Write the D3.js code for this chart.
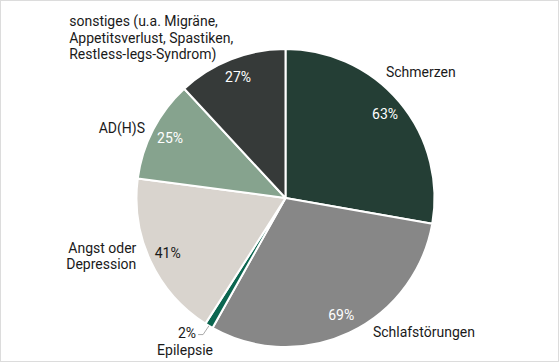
<!DOCTYPE html>
<html>
<head>
<meta charset="utf-8">
<script src="https://cdn.jsdelivr.net/npm/d3@7"></script>
<style>
  body { margin: 0; background: #fff; }
  svg text { font-family: Roboto, "Noto Sans", sans-serif; font-size: 14px; }
</style>
</head>
<body>
<div id="svg"></div>
<script>
/* Pie chart: Gründe für Cannabis-Verordnung (Mehrfachnennung) */

let categories = ["Schmerzen", "Schlafstörungen", "Epilepsie", "Angst oder Depression", "AD(H)S",
                  "sonstiges (u.a. Migräne, Appetitsverlust, Spastiken, Restless-legs-Syndrom)"];
let values = [63, 69, 2, 41, 25, 27];

// label lines as shown next to the pie
let labelLines = [
  ["Schmerzen"],
  ["Schlafstörungen"],
  ["Epilepsie"],
  ["Angst oder", "Depression"],
  ["AD(H)S"],
  ["sonstiges (u.a. Migräne,", "Appetitsverlust, Spastiken,", "Restless-legs-Syndrom)"]
];

let colors = ["#243e35", "#878787", "#0b6650", "#d9d4ce", "#86a38e", "#363a39"];
let pctColors = ["#fff", "#fff", "#fff", "#1a1a1a", "#fff", "#fff"];

// where each outer label sits: angle (deg, clockwise from top), distance, anchor
let labelLayout = [
  { a: 38.6, r: 161, anchor: "start" },
  { a: 146.9, r: 160, anchor: "start" },
  { a: 213.5, r: 182, anchor: "middle" },
  { a: 248.8, r: 160, anchor: "end" },
  { a: 296.5, r: 157, anchor: "end" },
  { a: 340, r: 153, anchor: "block" }
];

function makeGraph() {
  let w = 560, h = 363;
  let cx = 285.5, cy = 198, R = 149;
  let lineH = 16.5;

  let svg = d3.select("#svg")
              .append("svg")
              .attr("width", w)
              .attr("height", h);

  svg.append("rect")
     .attr("x", 0.5).attr("y", 0.5)
     .attr("width", w - 2).attr("height", h - 2)
     .attr("fill", "#fff")
     .attr("stroke", "#dcdcdc");

  let data = values.map((v, i) => ({ name: categories[i], value: v, i: i }));

  let pie = d3.pie().sort(null).value(d => d.value);
  let arcs = pie(data);

  let arc = d3.arc().innerRadius(0).outerRadius(R);
  let pctArc = d3.arc().innerRadius(130).outerRadius(130);
  let edgeArc = d3.arc().innerRadius(R).outerRadius(R);

  let g = svg.append("g").attr("transform", `translate(${cx}, ${cy})`);

  g.selectAll("path")
   .data(arcs)
   .enter()
   .append("path")
   .attr("d", arc)
   .attr("fill", d => colors[d.data.i])
   .attr("stroke", "#fff")
   .attr("stroke-width", 2)
   .attr("stroke-linejoin", "round");

  let polar = (deg, r) => {
    let a = deg * Math.PI / 180;
    return [Math.sin(a) * r, -Math.cos(a) * r];
  };

  // percentages inside (the tiny slice gets its own label outside)
  g.selectAll(".pct")
   .data(arcs.filter(d => d.data.value > 5))
   .enter()
   .append("text")
   .attr("class", "pct")
   .attr("x", d => pctArc.centroid(d)[0])
   .attr("y", d => pctArc.centroid(d)[1])
   .attr("dy", "0.35em")
   .attr("text-anchor", "middle")
   .attr("fill", d => pctColors[d.data.i])
   .text(d => d.data.value + "%");

  // small slice: percent outside with leader line
  arcs.filter(d => d.data.value <= 5).forEach(d => {
    let lay = labelLayout[d.data.i];
    let e = edgeArc.centroid(d);
    let p = polar(lay.a, 162);
    g.append("polyline")
     .attr("points", [[p[0] + 2, p[1] + 1.5], [p[0] + 7, p[1] + 1.5], e].map(q => q.join(",")).join(" "))
     .attr("fill", "none")
     .attr("stroke", "#aaa")
     .attr("stroke-width", 1);
    g.append("text")
     .attr("x", p[0])
     .attr("y", p[1])
     .attr("dy", "0.35em")
     .attr("text-anchor", "end")
     .attr("fill", "#1a1a1a")
     .text(d.data.value + "%");
  });

  // category labels
  arcs.forEach(d => {
    let i = d.data.i;
    let lay = labelLayout[i];
    let p = polar(lay.a, lay.r);
    let lines = labelLines[i];
    let t = g.append("text")
             .attr("fill", "#1a1a1a")
             .attr("text-anchor", lay.anchor === "block" ? "start" : lay.anchor);
    let y0 = lay.anchor === "block" ? p[1] - (lines.length - 1) * lineH
                                    : p[1] - (lines.length - 1) * lineH / 2;
    let spans = lines.map((s, k) => t.append("tspan")
                                     .attr("x", p[0])
                                     .attr("y", y0 + k * lineH)
                                     .attr("dy", "0.35em")
                                     .text(s));
    if (lay.anchor === "block") {
      let maxW = d3.max(spans, s => s.node().getComputedTextLength());
      spans.forEach(s => s.attr("x", p[0] - maxW));
    }
  });
}

window.onload = function() {
  makeGraph();
};
</script>
</body>
</html>
